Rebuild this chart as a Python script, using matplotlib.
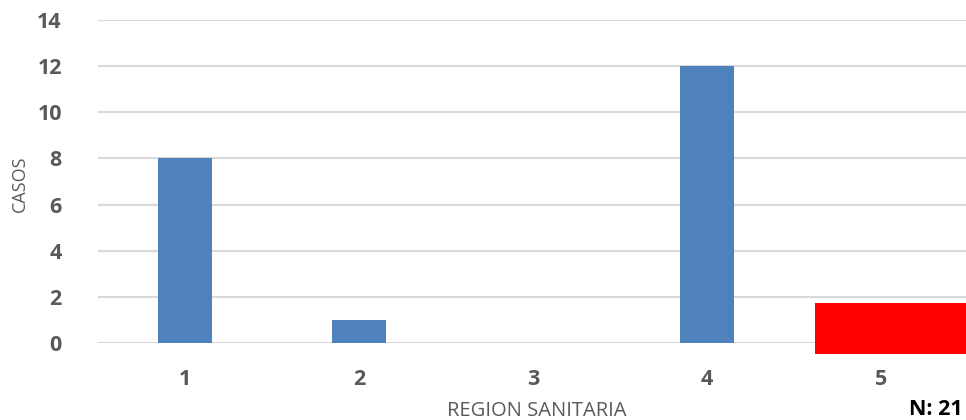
import matplotlib
matplotlib.use("Agg")
import matplotlib.pyplot as plt
from matplotlib.patches import Rectangle

# casos por region sanitaria
regiones = ["1", "2", "3", "4", "5"]
casos = [8, 1, 0, 12, 0]
total_n = 21

# recuadro rojo sobre la region 5
recuadro_x = (3.62, 4.5)
recuadro_y = (-0.48, 1.73)

plt.rcParams['font.family'] = ['Open Sans', 'DejaVu Sans']

fig = plt.figure(figsize=(9.66, 4.2), dpi=100)
ax = fig.add_axes([0.1014, 0.1833, 0.9006, 0.7690])

pos = list(range(len(regiones)))
ax.bar(pos, casos, width=0.315, color="#4f81bd", zorder=3)

ax.set_xlim(-0.5, 4.5)
ax.set_ylim(0, 14)
ax.set_yticks(range(0, 15, 2))
ax.set_xticks(pos)
ax.set_xticklabels(regiones)
ax.yaxis.grid(True, color="#d9d9d9", linewidth=1.5, zorder=0)
ax.set_axisbelow(True)
for s in ax.spines.values():
    s.set_visible(False)
ax.tick_params(axis="both", length=0, labelsize=15.5, labelcolor="#595959")
ax.tick_params(axis="y", pad=26)
ax.tick_params(axis="x", pad=19)
for lbl in ax.get_xticklabels() + ax.get_yticklabels():
    lbl.set_fontweight("bold")

ax.add_patch(Rectangle((recuadro_x[0], recuadro_y[0]),
                       recuadro_x[1] - recuadro_x[0],
                       recuadro_y[1] - recuadro_y[0],
                       facecolor="#ff0000", edgecolor="none",
                       clip_on=False, zorder=5))

fig.text(0.021, 0.5625, "CASOS", rotation=90, ha="center", va="center",
         fontsize=13, color="#595959")
fig.text(0.556, 0.022, "REGION SANITARIA", ha="center", va="center",
         fontsize=14.5, color="#595959")
fig.text(0.997, 0.026, "N: %d" % total_n, ha="right", va="center",
         fontsize=15.5, fontweight="bold", color="#000000")

fig.savefig("out.png", dpi=100)
